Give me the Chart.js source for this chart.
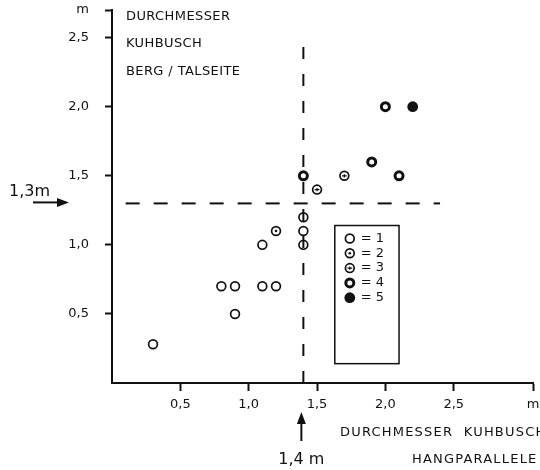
<!DOCTYPE html>
<html>
<head>
<meta charset="utf-8">
<script src="https://cdn.jsdelivr.net/npm/chart.js@4/dist/chart.umd.min.js"></script>
<style>
  html, body { margin: 0; padding: 0; background: #fff; }
  #wrap { width: 540px; height: 470px; position: relative; }
</style>
</head>
<body>
<div id="wrap"><canvas id="scatter"></canvas></div>
<script>
// Werte (Meter)
const xTicks = [0.5, 1.0, 1.5, 2.0, 2.5];
const yTicks = [0.5, 1.0, 1.5, 2.0, 2.5];
const xMax = 3.08;
const yMax = 2.7;

const typ1X = [0.3, 0.8, 0.9, 0.9, 1.1, 1.1, 1.2, 1.4, 1.4, 1.4];
const typ1Y = [0.28, 0.7, 0.7, 0.5, 1.0, 0.7, 0.7, 1.0, 1.1, 1.2];
const typ2X = [1.2];
const typ2Y = [1.1];
const typ3X = [1.5, 1.7];
const typ3Y = [1.4, 1.5];
const typ4X = [1.4, 1.9, 2.1, 2.0];
const typ4Y = [1.5, 1.6, 1.5, 2.0];
const typ5X = [2.2];
const typ5Y = [2.0];

const legendLabels = ["= 1", "= 2", "= 3", "= 4", "= 5"];
const grenzeX = 1.4;
const grenzeY = 1.3;

const INK = "#111";
const FONT = "'DejaVu Sans', sans-serif";

// Symbolart je Datensatz: Ring, Punkt innen, Kreuz innen, dicker Ring, voll
const symbol = [
    { r: 4.4, w: 1.7, fill: false, inner: null },
    { r: 4.4, w: 1.7, fill: false, inner: "dot" },
    { r: 4.4, w: 1.7, fill: false, inner: "plus" },
    { r: 4.0, w: 3.0, fill: false, inner: null },
    { r: 5.4, w: 0,   fill: true,  inner: null },
];

function innerMark(ctx, kind, x, y) {
    ctx.save();
    ctx.fillStyle = INK; ctx.strokeStyle = INK;
    if (kind === "dot") {
        ctx.beginPath(); ctx.arc(x, y, 1.3, 0, Math.PI * 2); ctx.fill();
    } else if (kind === "plus") {
        ctx.lineWidth = 1.2;
        ctx.beginPath();
        ctx.moveTo(x - 2.4, y); ctx.lineTo(x + 2.4, y);
        ctx.moveTo(x, y - 1.6); ctx.lineTo(x, y + 1.6);
        ctx.stroke();
    }
    ctx.restore();
}

function drawSymbol(ctx, s, x, y) {
    ctx.save();
    ctx.beginPath();
    ctx.arc(x, y, s.r, 0, Math.PI * 2);
    if (s.fill) { ctx.fillStyle = INK; ctx.fill(); }
    else { ctx.lineWidth = s.w; ctx.strokeStyle = INK; ctx.stroke(); }
    ctx.restore();
    innerMark(ctx, s.inner, x, y);
}

const pts = (xs, ys) => xs.map((x, i) => ({ x: x, y: ys[i] }));

function pointSet(xs, ys, idx) {
    const s = symbol[idx];
    return {
        type: "scatter",
        data: pts(xs, ys),
        symbolIndex: idx,
        pointStyle: "circle",
        pointRadius: s.r,
        pointHoverRadius: s.r,
        borderWidth: s.w,
        pointBorderWidth: s.w,
        borderColor: INK,
        backgroundColor: s.fill ? INK : "#fff",
    };
}

function dashLine(data, dash) {
    return {
        type: "line",
        data: data,
        borderColor: INK,
        borderWidth: 2,
        borderDash: dash,
        pointRadius: 0,
        fill: false,
    };
}

function arrow(ctx, x1, y1, x2, y2) {
    const ang = Math.atan2(y2 - y1, x2 - x1);
    const head = 12, half = 4.5;
    ctx.beginPath();
    ctx.lineWidth = 2;
    ctx.moveTo(x1, y1);
    ctx.lineTo(x2 - Math.cos(ang) * head * 0.8, y2 - Math.sin(ang) * head * 0.8);
    ctx.stroke();
    ctx.beginPath();
    ctx.moveTo(x2, y2);
    ctx.lineTo(x2 - Math.cos(ang) * head - Math.sin(ang) * half, y2 - Math.sin(ang) * head + Math.cos(ang) * half);
    ctx.lineTo(x2 - Math.cos(ang) * head + Math.sin(ang) * half, y2 - Math.sin(ang) * head - Math.cos(ang) * half);
    ctx.closePath();
    ctx.fill();
}

const beschriftung = {
    id: "beschriftung",
    afterDatasetsDraw(chart) {
        // Innenzeichen der Symbole an den Punktpositionen der Bibliothek
        chart.data.datasets.forEach((ds, di) => {
            if (ds.symbolIndex === undefined) return;
            const kind = symbol[ds.symbolIndex].inner;
            if (!kind) return;
            chart.getDatasetMeta(di).data.forEach(el => innerMark(chart.ctx, kind, el.x, el.y));
        });
    },
    afterDraw(chart) {
        const ctx = chart.ctx;
        const xs = chart.scales.x, ys = chart.scales.y;
        ctx.save();
        ctx.fillStyle = INK; ctx.strokeStyle = INK;
        ctx.textBaseline = "middle";

        // Titel oben links
        ctx.font = "13px " + FONT;
        ctx.textAlign = "left";
        ctx.letterSpacing = "0.4px";
        ctx.fillText("DURCHMESSER", 126, 17);
        ctx.fillText("KUHBUSCH", 126, 44);
        ctx.fillText("BERG / TALSEITE", 126, 72);

        // Achsentitel unten
        ctx.letterSpacing = "1.2px";
        ctx.fillText("DURCHMESSER  KUHBUSCH", 340, 433);
        ctx.fillText("HANGPARALLELE", 412, 460);
        ctx.letterSpacing = "0px";

        // Markierung 1,3 m
        const py = ys.getPixelForValue(grenzeY);
        ctx.font = "16px " + FONT;
        ctx.fillText("1,3m", 9, py - 12);
        arrow(ctx, 33, py - 1, 69, py - 1);

        // Markierung 1,4 m
        const px = xs.getPixelForValue(grenzeX);
        arrow(ctx, px - 2, 441, px - 2, 412);
        ctx.textAlign = "center";
        ctx.fillText("1,4 m", px - 2, 460);

        // Legendenkasten
        const bx1 = xs.getPixelForValue(1.63), bx2 = xs.getPixelForValue(2.10);
        const by1 = ys.getPixelForValue(1.14), by2 = ys.getPixelForValue(0.14);
        ctx.lineWidth = 1.5;
        ctx.strokeRect(bx1, by1, bx2 - bx1, by2 - by1);
        ctx.font = "13px " + FONT;
        ctx.textAlign = "left";
        legendLabels.forEach((lab, i) => {
            const ly = by1 + 13 + i * 14.8;
            drawSymbol(ctx, symbol[i], bx1 + 15, ly);
            ctx.fillText(lab, bx1 + 26, ly);
        });
        ctx.restore();
    }
};

new Chart(document.getElementById("scatter"), {
    type: "scatter",
    data: {
        datasets: [
            dashLine([{ x: 0.1, y: grenzeY }, { x: 2.4, y: grenzeY }], [14, 14]),
            dashLine([{ x: grenzeX, y: 0 }, { x: grenzeX, y: 2.5 }], [12, 15]),
            pointSet(typ1X, typ1Y, 0),
            pointSet(typ2X, typ2Y, 1),
            pointSet(typ3X, typ3Y, 2),
            pointSet(typ4X, typ4Y, 3),
            pointSet(typ5X, typ5Y, 4),
        ]
    },
    options: {
        responsive: true,
        maintainAspectRatio: false,
        animation: false,
        layout: { padding: { top: 10, right: 1, left: 0, bottom: 0 } },
        scales: {
            x: {
                type: "linear",
                min: 0,
                max: xMax,
                afterBuildTicks: (s) => { s.ticks = xTicks.concat([xMax]).map(v => ({ value: v })); },
                afterFit: (s) => { s.height = 87; s.paddingLeft = 0; s.paddingRight = 0; },
                border: { color: INK, width: 2 },
                grid: { drawOnChartArea: false, color: INK, tickLength: 8, tickWidth: 2 },
                ticks: {
                    padding: 6,
                    maxRotation: 0,
                    autoSkip: false,
                    color: INK,
                    font: { family: FONT, size: 13 },
                    callback: (v) => v === xMax ? "m" : v.toFixed(1).replace(".", ","),
                },
            },
            y: {
                type: "linear",
                min: 0,
                max: yMax,
                afterBuildTicks: (s) => { s.ticks = yTicks.concat([yMax]).map(v => ({ value: v })); },
                afterFit: (s) => { s.width = 112; s.paddingTop = 0; s.paddingBottom = 0; },
                border: { color: INK, width: 2 },
                grid: { drawOnChartArea: false, color: INK, tickLength: 7, tickWidth: 2 },
                ticks: {
                    padding: 16,
                    autoSkip: false,
                    color: INK,
                    font: { family: FONT, size: 13 },
                    callback: (v) => v === yMax ? "m" : v.toFixed(1).replace(".", ","),
                },
            },
        },
        plugins: {
            legend: { display: false },
            tooltip: { enabled: false },
        }
    },
    plugins: [beschriftung]
});
</script>
</body>
</html>
